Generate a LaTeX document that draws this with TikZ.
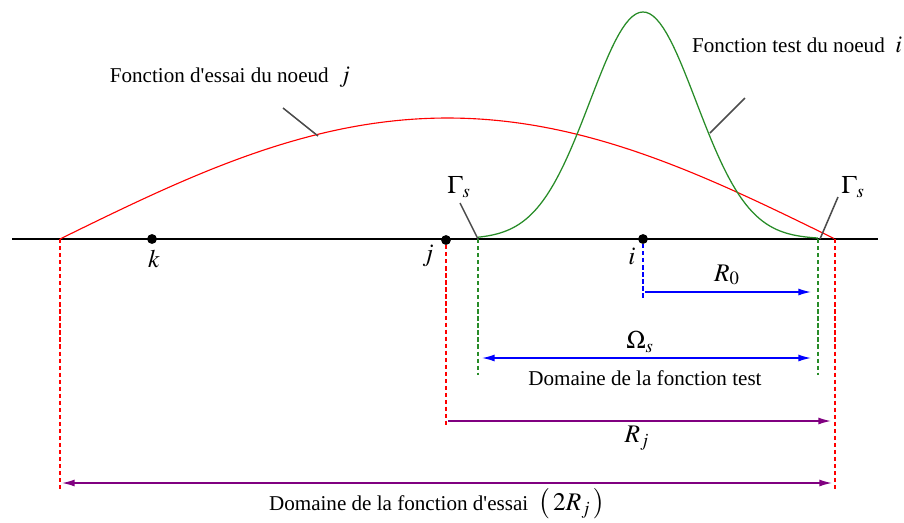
\documentclass[tikz,border=0pt]{standalone}
\usepackage{mathptmx}
\usepackage{fontspec}
\setmainfont{Liberation Serif}
\usetikzlibrary{arrows.meta,positioning}

\definecolor{testgreen}{RGB}{40,140,40}
\definecolor{dimpurple}{RGB}{128,0,128}

\begin{document}
\begin{tikzpicture}[
        x=0.025cm, y=-0.025cm,
        dot/.style={circle, fill=black, inner sep=0pt, minimum size=7pt},
        txt/.style={inner sep=1pt, font=\fontsize{15}{17}\selectfont},
        mlbl/.style={inner sep=1pt, font=\fontsize{18}{20}\selectfont},
        pointer/.style={draw=black!70, line width=1.1pt},
        guide/.style={line width=1pt, dash pattern=on 3pt off 2pt},
        dimline/.style={line width=1pt, -{Latex[length=9pt,width=5pt]}},
        dimboth/.style={line width=1pt, {Latex[length=9pt,width=5pt]}-{Latex[length=9pt,width=5pt]}}
    ]
    \useasboundingbox (0,0) rectangle (904,522);

    % Axis and nodes
    \coordinate (axl) at (12,239);
    \coordinate (axr) at (878,239);
    \draw[line width=1.1pt] (axl) -- (axr);
    \node[dot] (k) at (152,239) {};
    \node[dot] (j) at (446,240) {};
    \node[dot] (i) at (643,239) {};
    \node[mlbl] (k-lbl) at (154,259) {$k$};
    \node[mlbl] (j-lbl) at (428,256) {$j$};
    \node[mlbl] (i-lbl) at (632,256) {$i$};

    % Curves
    \draw[red, line width=0.8pt] plot[domain=0:1, samples=100, variable=\t] ({60+775*\t}, {239-121*sin(180*\t)});
    \draw[testgreen, line width=0.9pt] plot[domain=-2.2:2.333, samples=100, variable=\t] ({643+75*\t}, {239-227*exp(-\t*\t)});

    % Curve labels
    \node[txt] (essai) at (230,77) {Fonction d\textquotesingle essai du noeud \ {\fontsize{17}{19}\selectfont$j$}};
    \node[txt] (test) at (797,45) {Fonction test du noeud \ {\fontsize{17}{19}\selectfont$i$}};
    \coordinate (essai-from) at (283,108);
    \coordinate (essai-to) at (318,136);
    \coordinate (test-from) at (745,98);
    \coordinate (test-to) at (710,133);
    \draw[pointer] (essai-from) -- (essai-to);
    \draw[pointer] (test-from) -- (test-to);

    % Boundaries
    \node[mlbl] (gam-l) at (459,187) {$\Gamma_s$};
    \node[mlbl] (gam-r) at (853,187) {$\Gamma_s$};
    \coordinate (gl-from) at (460,203);
    \coordinate (gl-to) at (478,239);
    \coordinate (gr-from) at (838,197);
    \coordinate (gr-to) at (820,239);
    \draw[pointer] (gl-from) -- (gl-to);
    \draw[pointer] (gr-from) -- (gr-to);

    % Dashed guides
    \coordinate (rl-top) at (60,239);   \coordinate (rl-bot) at (60,490);
    \coordinate (rr-top) at (835,239);  \coordinate (rr-bot) at (835,490);
    \coordinate (rj-bot) at (446,425);
    \coordinate (gl-top) at (478,239);  \coordinate (gl-bot) at (478,375);
    \coordinate (gr-top) at (818,239);  \coordinate (gr-bot) at (818,375);
    \coordinate (bi-bot) at (643,300);
    \draw[guide, red] (rl-top) -- (rl-bot);
    \draw[guide, red] (rr-top) -- (rr-bot);
    \draw[guide, red] (j) -- (rj-bot);
    \draw[guide, testgreen] (gl-top) -- (gl-bot);
    \draw[guide, testgreen] (gr-top) -- (gr-bot);
    \draw[guide, blue] (i) -- (bi-bot);

    % Dimensions
    \coordinate (r0-a) at (645,292);  \coordinate (r0-b) at (811,292);
    \coordinate (om-a) at (482,358);  \coordinate (om-b) at (811,358);
    \coordinate (rj-a) at (448,421);  \coordinate (rj-b) at (831,421);
    \coordinate (dj-a) at (62,483);   \coordinate (dj-b) at (832,483);
    \draw[dimline, blue] (r0-a) -- (r0-b);
    \draw[dimboth, blue] (om-a) -- (om-b);
    \draw[dimline, dimpurple] (rj-a) -- (rj-b);
    \draw[dimboth, dimpurple] (dj-a) -- (dj-b);
    \node[mlbl] (r0-lbl) at (727,275) {$R_0$};
    \node[mlbl] (om-lbl) at (640,342) {$\Omega_s$};
    \node[txt] (om-txt) at (645,378) {Domaine de la fonction test};
    \node[mlbl] (rj-lbl) at (637,438) {$R_j$};
    \node[txt] (dj-txt) at (437,504) {Domaine de la fonction d\textquotesingle essai \ {\fontsize{18}{20}\selectfont$\bigl(\,2R_j\,\bigr)$}};

\end{tikzpicture}
\end{document}
